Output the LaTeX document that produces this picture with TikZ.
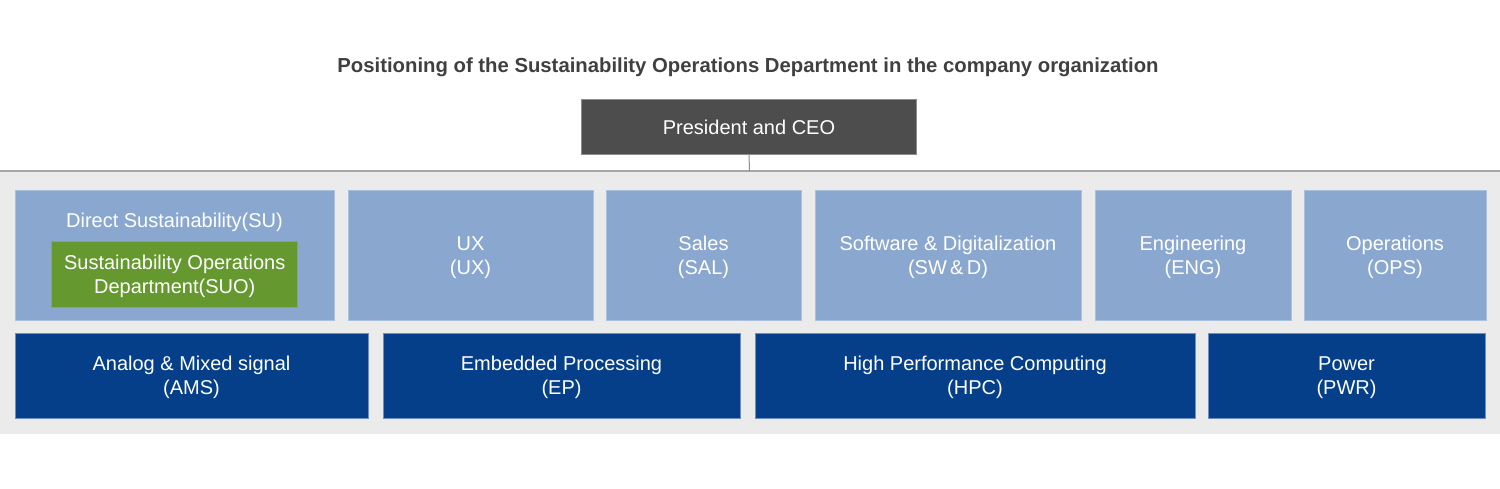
\documentclass[tikz,border=0pt]{standalone}
\usepackage{fontspec}
\setmainfont{Liberation Sans}
\definecolor{bandgray}{HTML}{EBEBEB}
\definecolor{bandline}{HTML}{A6A6A6}
\definecolor{ceogray}{HTML}{4D4D4D}
\definecolor{ceoline}{HTML}{8C8C8C}
\definecolor{unitblue}{HTML}{8AA8CF}
\definecolor{unitline}{HTML}{A9C0DF}
\definecolor{suogreen}{HTML}{65992F}
\definecolor{suoline}{HTML}{82B050}
\definecolor{bizblue}{HTML}{053F8A}
\definecolor{bizline}{HTML}{6F8FC2}
\definecolor{titlegray}{HTML}{404040}
\tikzset{
  boxtext/.style={text=white, align=center, text depth=0pt, font=\fontsize{20}{24.5}\selectfont},
  ceobox/.style={boxtext, fill=ceogray, draw=ceoline, line width=1pt,
    minimum width=335pt, minimum height=55pt, inner sep=0pt, outer sep=0pt},
  unitbox/.style={boxtext, fill=unitblue, draw=unitline, line width=1pt,
    minimum height=129pt, inner sep=0pt, outer sep=0pt},
  suobox/.style={boxtext, fill=suogreen, draw=suoline, line width=1pt,
    minimum width=246pt, minimum height=65pt, inner sep=0pt, outer sep=0pt},
  bizbox/.style={boxtext, fill=bizblue, draw=bizline, line width=1pt,
    minimum height=85pt, inner sep=0pt, outer sep=0pt}
}
\begin{document}
\begin{tikzpicture}[x=1pt, y=-1pt]
    \useasboundingbox (0,0) rectangle (1500,489);
    % gray band behind the organisation
    \fill[bandgray] (0,171) rectangle (1500,434);
    \draw[bandline, line width=2pt] (0,171) -- (1500,171);
    \coordinate (bar) at (749.5,171);

    \node[text=titlegray, text depth=0pt, font=\bfseries\fontsize{20.3}{24}\selectfont] (title) at (748,65.5) {Positioning of the Sustainability Operations Department in the company organization};

    \node[ceobox] (ceo) at (749,127) {President and CEO};
    \draw[ceoline, line width=1pt] (ceo.south) -- (bar);

    % first row
    \node[unitbox, minimum width=319pt] (su) at (174.5,255.5) {};
    \node[boxtext] (sutext) at (174.5,220) {Direct Sustainability(SU)};
    \node[suobox] (suo) at (174.7,274.5) {Sustainability Operations\\Department(SUO)};
    \node[unitbox, minimum width=245pt] (ux) at (470.5,255.5) {UX\\(UX)};
    \node[unitbox, minimum width=195pt] (sal) at (703.5,255.5) {Sales\\(SAL)};
    \node[unitbox, minimum width=266pt] (swd) at (948,255.5) {Software \& Digitalization\\(SW\,\&\,D)};
    \node[unitbox, minimum width=196pt] (eng) at (1193,255.5) {Engineering\\(ENG)};
    \node[unitbox, minimum width=182pt] (ops) at (1395,255.5) {Operations\\(OPS)};

    % second row
    \node[bizbox, minimum width=353pt] (ams) at (191.5,375.5) {Analog \& Mixed signal\\(AMS)};
    \node[bizbox, minimum width=357pt] (ep) at (561.5,375.5) {Embedded Processing\\(EP)};
    \node[bizbox, minimum width=440pt] (hpc) at (975,375.5) {High Performance Computing\\(HPC)};
    \node[bizbox, minimum width=277pt] (pwr) at (1346.5,375.5) {Power\\(PWR)};
\end{tikzpicture}
\end{document}
